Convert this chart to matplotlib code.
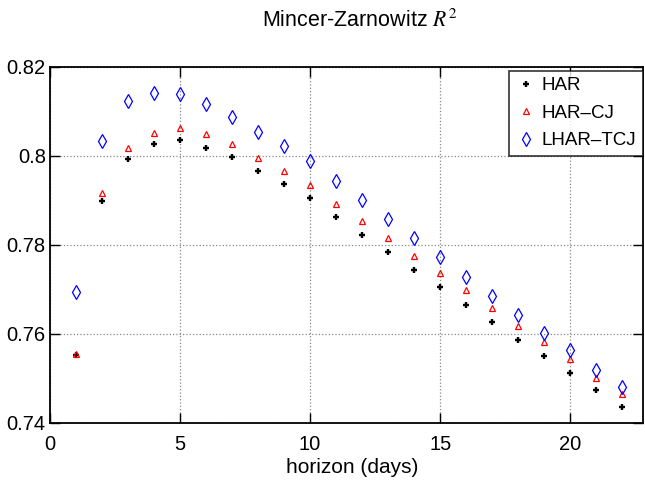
import matplotlib
matplotlib.use("Agg")
import matplotlib.pyplot as plt

# Forecast horizon in days
horizon = list(range(1, 23))

# Mincer-Zarnowitz R^2 per model
har = [0.7553, 0.7898, 0.7994, 0.8026, 0.8035, 0.8019, 0.7997, 0.7966,
       0.7936, 0.7905, 0.7862, 0.7823, 0.7784, 0.7744, 0.7706, 0.7666,
       0.7626, 0.7587, 0.7550, 0.7512, 0.7474, 0.7435]
har_cj = [0.7555, 0.7916, 0.8019, 0.8052, 0.8063, 0.8049, 0.8026, 0.7996,
          0.7967, 0.7934, 0.7893, 0.7855, 0.7816, 0.7776, 0.7737, 0.7698,
          0.7658, 0.7619, 0.7581, 0.7543, 0.7502, 0.7465]
lhar_tcj = [0.7694, 0.8033, 0.8123, 0.8141, 0.8139, 0.8117, 0.8087, 0.8054,
            0.8022, 0.7989, 0.7943, 0.7900, 0.7858, 0.7815, 0.7772, 0.7729,
            0.7686, 0.7643, 0.7603, 0.7563, 0.7520, 0.7481]

xticks = [0, 5, 10, 15, 20]
yticks = [0.74, 0.76, 0.78, 0.80, 0.82]
ytick_labels = ["0.74", "0.76", "0.78", "0.8", "0.82"]

plt.rcParams['font.family'] = ['Liberation Sans', 'DejaVu Sans']
plt.rcParams['mathtext.fontset'] = 'stix'

fig = plt.figure(figsize=(6.45, 4.83), dpi=100)
ax = fig.add_axes([50 / 645, 60 / 483, 593 / 645, 356 / 483])

ax.plot(horizon, har, linestyle='none', marker='+', color='black',
        markersize=5, markeredgewidth=1.7, label='HAR')
ax.plot(horizon, har_cj, linestyle='none', marker='^', color='red',
        markerfacecolor='none', markersize=5, markeredgewidth=0.9, label='HAR\u2013CJ')
ax.plot(horizon, lhar_tcj, linestyle='none', marker='d', color='blue',
        markerfacecolor='none', markersize=7, markeredgewidth=0.9, label='LHAR\u2013TCJ')

ax.set_xlim(0, 22.8)
ax.set_ylim(0.74, 0.82)
ax.set_xticks(xticks)
ax.set_yticks(yticks)
ax.set_yticklabels(ytick_labels)
ax.tick_params(direction='in', length=7, width=1, labelsize=14.5,
               top=True, right=True)
ax.tick_params(axis='x', pad=9)
ax.tick_params(axis='y', pad=3)
ax.grid(True, linestyle=':', color='#888888', linewidth=0.9)
for sp in ax.spines.values():
    sp.set_linewidth(1.3)

ax.set_xlabel('horizon (days)', fontsize=15)
ax.xaxis.set_label_coords(0.51, -0.097)
fig.text(0.558, 0.958, 'Mincer-Zarnowitz $R^2$', ha='center', va='center',
         fontsize=15.5)

leg = ax.legend(loc='upper right', fontsize=13.5, frameon=True, fancybox=False,
                edgecolor='black', handletextpad=0.3, borderaxespad=0.0,
                labelspacing=0.55, handlelength=1.1, borderpad=0.35,
                bbox_to_anchor=(1.0, 0.99))
leg.get_frame().set_linewidth(1.2)

fig.savefig('out.png', dpi=100)
